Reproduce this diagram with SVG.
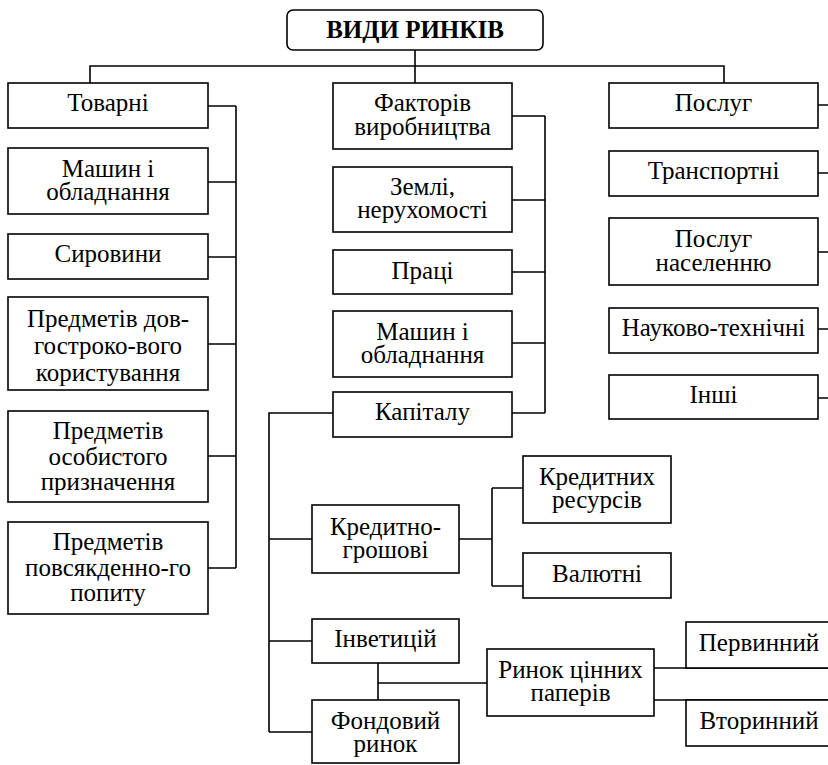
<svg xmlns="http://www.w3.org/2000/svg" width="828" height="765" viewBox="0 0 828 765" xml:lang="uk">
<rect x="0" y="0" width="828" height="765" fill="#ffffff"/>
<g id="connectors" fill="none" stroke="#000000" stroke-width="1.6">
<path d="M415,50V83M90,83V66H724V83"/>
<path d="M208,106H236M208,182H236M208,257H236M208,344H236M208,456H236M208,568H236M236,106V568"/>
<path d="M512,116H545M512,200H545M512,272H545M512,343H545M512,413H545M545,116V413"/>
<path d="M818,105H830M818,173H830M818,252H830M818,329H830M818,398H830"/>
<path d="M333,413H269V732M269,539H312M269,641H312M269,732H312"/>
<path d="M459,539H492M492,488V586M492,488H523M492,586H523"/>
<path d="M378,663V700M378,683H487"/>
<path d="M654,668H830M654,700H830"/>
</g>
<g fill="#ffffff" stroke="#000000" stroke-width="1.6">
<rect id="title-box" x="287" y="10" width="256" height="40" rx="6"/>
<rect id="tovarni" x="8" y="83" width="200" height="45"/>
<rect id="mashyn1" x="8" y="148" width="200" height="66"/>
<rect id="syrovyny" x="8" y="234" width="200" height="45"/>
<rect id="dovhostrok" x="8" y="297" width="200" height="93"/>
<rect id="osobystoho" x="8" y="411" width="200" height="91"/>
<rect id="povsyakdenn" x="8" y="522" width="200" height="92"/>
<rect id="faktoriv" x="333" y="83" width="179" height="66"/>
<rect id="zemli" x="333" y="167" width="179" height="65"/>
<rect id="pratsi" x="333" y="250" width="179" height="44"/>
<rect id="mashyn2" x="333" y="311" width="179" height="66"/>
<rect id="kapitalu" x="333" y="392" width="179" height="45"/>
<rect id="posluh" x="609" y="83" width="209" height="45"/>
<rect id="transport" x="609" y="151" width="209" height="45"/>
<rect id="naselennyu" x="609" y="218" width="209" height="67"/>
<rect id="naukovo" x="609" y="308" width="209" height="45"/>
<rect id="inshi" x="609" y="375" width="209" height="44"/>
<rect id="kredytno" x="312" y="505" width="147" height="68"/>
<rect id="kredytnykh" x="523" y="456" width="148" height="67"/>
<rect id="valyutni" x="523" y="553" width="148" height="45"/>
<rect id="investytsiy" x="312" y="619" width="147" height="44"/>
<rect id="fondovyi" x="312" y="700" width="147" height="63"/>
<rect id="rynok_tsp" x="487" y="649" width="167" height="67"/>
<rect id="pervynnyi" x="686" y="622" width="146" height="46"/>
<rect id="vtorynnyi" x="686" y="700" width="146" height="46"/>
</g>
<text style="font-family:'Liberation Serif',serif !important" font-family="Liberation Serif" font-size="25" text-anchor="middle" font-weight="bold" x="415" y="38">ВИДИ РИНКІВ</text>
<text style="font-family:'Liberation Serif',serif !important" font-family="Liberation Serif" font-size="25" text-anchor="middle" x="108" y="111">Товарні</text>
<text style="font-family:'Liberation Serif',serif !important" font-family="Liberation Serif" font-size="25" text-anchor="middle" x="108" y="177">Машин і</text>
<text style="font-family:'Liberation Serif',serif !important" font-family="Liberation Serif" font-size="25" text-anchor="middle" x="108" y="200">обладнання</text>
<text style="font-family:'Liberation Serif',serif !important" font-family="Liberation Serif" font-size="25" text-anchor="middle" x="108" y="262">Сировини</text>
<text style="font-family:'Liberation Serif',serif !important" font-family="Liberation Serif" font-size="25" text-anchor="middle" x="108" y="327">Предметів дов-</text>
<text style="font-family:'Liberation Serif',serif !important" font-family="Liberation Serif" font-size="25" text-anchor="middle" x="108" y="354">гостроко-вого</text>
<text style="font-family:'Liberation Serif',serif !important" font-family="Liberation Serif" font-size="25" text-anchor="middle" x="108" y="381">користування</text>
<text style="font-family:'Liberation Serif',serif !important" font-family="Liberation Serif" font-size="25" text-anchor="middle" x="108" y="439">Предметів</text>
<text style="font-family:'Liberation Serif',serif !important" font-family="Liberation Serif" font-size="25" text-anchor="middle" x="108" y="465">особистого</text>
<text style="font-family:'Liberation Serif',serif !important" font-family="Liberation Serif" font-size="25" text-anchor="middle" x="108" y="490">призначення</text>
<text style="font-family:'Liberation Serif',serif !important" font-family="Liberation Serif" font-size="25" text-anchor="middle" x="108" y="550">Предметів</text>
<text style="font-family:'Liberation Serif',serif !important" font-family="Liberation Serif" font-size="25" text-anchor="middle" x="108" y="576">повсякденно-го</text>
<text style="font-family:'Liberation Serif',serif !important" font-family="Liberation Serif" font-size="25" text-anchor="middle" x="108" y="601">попиту</text>
<text style="font-family:'Liberation Serif',serif !important" font-family="Liberation Serif" font-size="25" text-anchor="middle" x="422.5" y="111">Факторів</text>
<text style="font-family:'Liberation Serif',serif !important" font-family="Liberation Serif" font-size="25" text-anchor="middle" x="422.5" y="135">виробництва</text>
<text style="font-family:'Liberation Serif',serif !important" font-family="Liberation Serif" font-size="25" text-anchor="middle" x="422.5" y="195">Землі,</text>
<text style="font-family:'Liberation Serif',serif !important" font-family="Liberation Serif" font-size="25" text-anchor="middle" x="422.5" y="218">нерухомості</text>
<text style="font-family:'Liberation Serif',serif !important" font-family="Liberation Serif" font-size="25" text-anchor="middle" x="422.5" y="279">Праці</text>
<text style="font-family:'Liberation Serif',serif !important" font-family="Liberation Serif" font-size="25" text-anchor="middle" x="422.5" y="340">Машин і</text>
<text style="font-family:'Liberation Serif',serif !important" font-family="Liberation Serif" font-size="25" text-anchor="middle" x="422.5" y="363">обладнання</text>
<text style="font-family:'Liberation Serif',serif !important" font-family="Liberation Serif" font-size="25" text-anchor="middle" x="422.5" y="420">Капіталу</text>
<text style="font-family:'Liberation Serif',serif !important" font-family="Liberation Serif" font-size="25" text-anchor="middle" x="713.5" y="111">Послуг</text>
<text style="font-family:'Liberation Serif',serif !important" font-family="Liberation Serif" font-size="25" text-anchor="middle" x="713.5" y="179">Транспортні</text>
<text style="font-family:'Liberation Serif',serif !important" font-family="Liberation Serif" font-size="25" text-anchor="middle" x="713.5" y="247">Послуг</text>
<text style="font-family:'Liberation Serif',serif !important" font-family="Liberation Serif" font-size="25" text-anchor="middle" x="713.5" y="271">населенню</text>
<text style="font-family:'Liberation Serif',serif !important" font-family="Liberation Serif" font-size="25" text-anchor="middle" x="713.5" y="336">Науково-технічні</text>
<text style="font-family:'Liberation Serif',serif !important" font-family="Liberation Serif" font-size="25" text-anchor="middle" x="713.5" y="403">Інші</text>
<text style="font-family:'Liberation Serif',serif !important" font-family="Liberation Serif" font-size="25" text-anchor="middle" x="385.5" y="535">Кредитно-</text>
<text style="font-family:'Liberation Serif',serif !important" font-family="Liberation Serif" font-size="25" text-anchor="middle" x="385.5" y="558">грошові</text>
<text style="font-family:'Liberation Serif',serif !important" font-family="Liberation Serif" font-size="25" text-anchor="middle" x="597" y="485">Кредитних</text>
<text style="font-family:'Liberation Serif',serif !important" font-family="Liberation Serif" font-size="25" text-anchor="middle" x="597" y="508">ресурсів</text>
<text style="font-family:'Liberation Serif',serif !important" font-family="Liberation Serif" font-size="25" text-anchor="middle" x="597" y="582">Валютні</text>
<text style="font-family:'Liberation Serif',serif !important" font-family="Liberation Serif" font-size="25" text-anchor="middle" x="385.5" y="647">Інветицій</text>
<text style="font-family:'Liberation Serif',serif !important" font-family="Liberation Serif" font-size="25" text-anchor="middle" x="385.5" y="729">Фондовий</text>
<text style="font-family:'Liberation Serif',serif !important" font-family="Liberation Serif" font-size="25" text-anchor="middle" x="385.5" y="752">ринок</text>
<text style="font-family:'Liberation Serif',serif !important" font-family="Liberation Serif" font-size="25" text-anchor="middle" x="570.5" y="678">Ринок цінних</text>
<text style="font-family:'Liberation Serif',serif !important" font-family="Liberation Serif" font-size="25" text-anchor="middle" x="570.5" y="701">паперів</text>
<text style="font-family:'Liberation Serif',serif !important" font-family="Liberation Serif" font-size="25" text-anchor="middle" x="759" y="651">Первинний</text>
<text style="font-family:'Liberation Serif',serif !important" font-family="Liberation Serif" font-size="25" text-anchor="middle" x="759" y="729">Вторинний</text>
</svg>
